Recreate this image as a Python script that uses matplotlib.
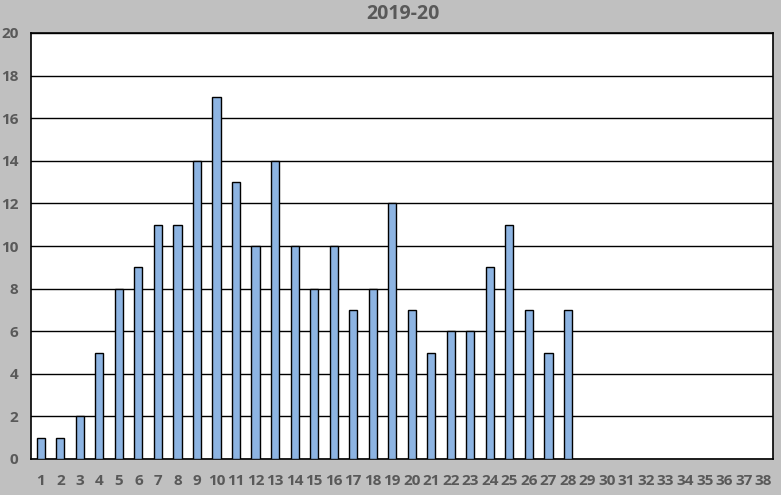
import matplotlib.pyplot as plt
import numpy as np

# weekly counts, season 2019-20 (weeks 29-38 not yet filled)
weeks = list(range(1, 39))
counts = [1, 1, 2, 5, 8, 9, 11, 11, 14, 17, 13, 10, 14, 10, 8, 10, 7, 8, 12, 7,
          5, 6, 6, 9, 11, 7, 5, 7]
yticks = list(range(0, 21, 2))

grey_txt = '#595959'
plt.rcParams['font.family'] = ['Open Sans', 'DejaVu Sans']

fig = plt.figure(figsize=(7.81, 4.95), dpi=100)
fig.patch.set_facecolor('#C0C0C0')
ax = fig.add_axes([31/781, 36/495, 742/781, 426/495])
ax.set_facecolor('white')

x = np.arange(len(counts)) + 1
ax.bar(x, counts, width=0.42, color='#8DB4E2', edgecolor='black', linewidth=1, zorder=3)

ax.set_xlim(0.5, len(weeks) + 0.5)
ax.set_ylim(0, 20)
ax.set_yticks(yticks)
ax.set_xticks(weeks)
ax.set_xticklabels([str(w) for w in weeks])
ax.grid(axis='y', color='black', linewidth=1, zorder=1)
ax.tick_params(length=0, labelsize=11, labelcolor=grey_txt)
ax.tick_params(axis='y', pad=9)
ax.tick_params(axis='x', pad=10.5)
for lab in ax.get_xticklabels() + ax.get_yticklabels():
    lab.set_fontweight('bold')
for s in ax.spines.values():
    s.set_color('black')
    s.set_linewidth(1.2)

fig.text(403/781, 1 - 14/495, '2019-20', ha='center', va='center',
         fontsize=14, fontweight='bold', color=grey_txt)

fig.savefig('out.png', dpi=100, facecolor=fig.get_facecolor())
